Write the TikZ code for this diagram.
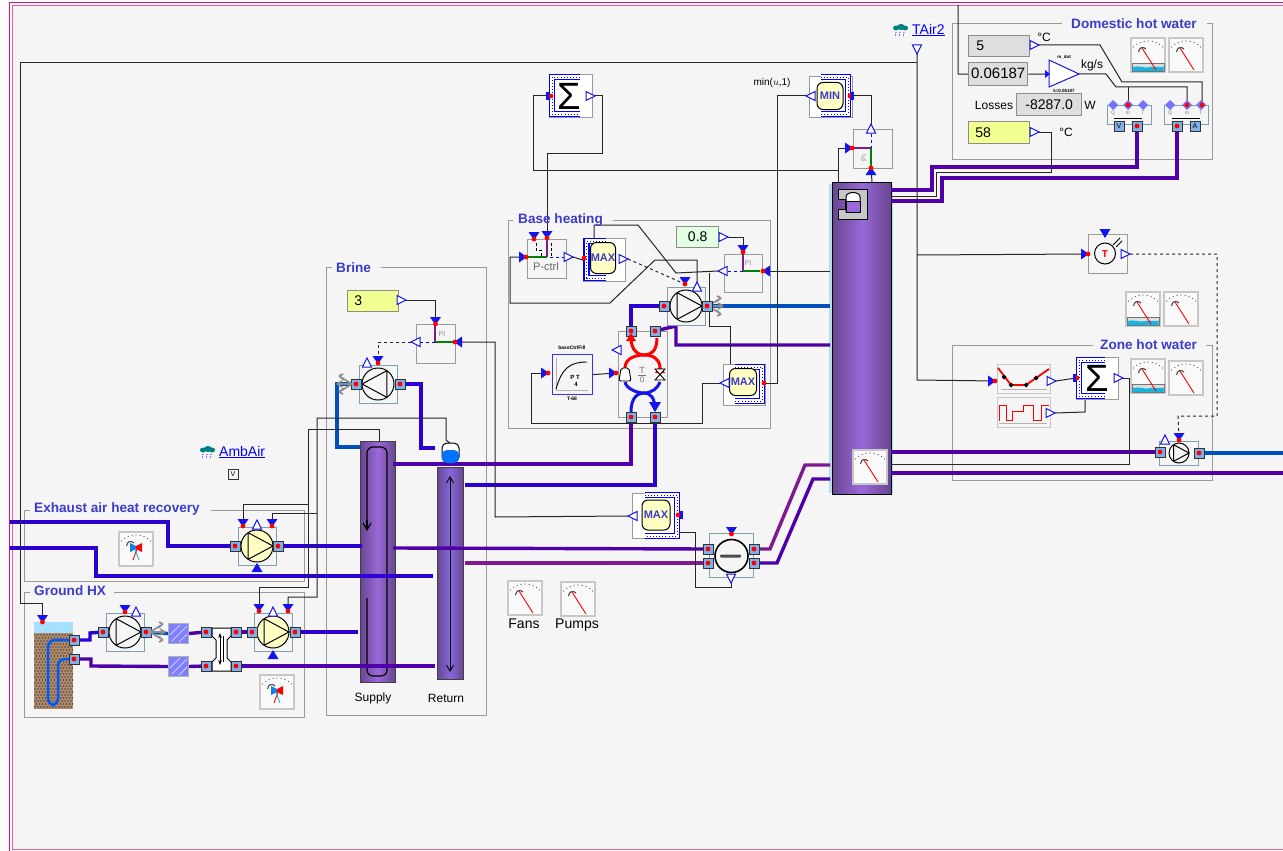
\documentclass[tikz,border=0pt]{standalone}
\usepackage{fontspec}
\setmainfont{Liberation Sans}
\usetikzlibrary{arrows.meta}
\definecolor{bgc}{HTML}{F5F5F5}
\definecolor{pinkA}{HTML}{D4107A}
\definecolor{pinkB}{HTML}{E060A0}
\definecolor{lblc}{HTML}{3C3CC8}
\definecolor{frc}{HTML}{9A9A9A}
\definecolor{pipeV}{HTML}{2C00D0}
\definecolor{pipeP}{HTML}{5000A8}
\definecolor{pipeB}{HTML}{0050C0}
\definecolor{pipeM}{HTML}{801890}
\definecolor{prtc}{HTML}{80B0E8}
\definecolor{bl}{HTML}{1414EC}
\definecolor{pmpbox}{HTML}{7F9FAE}
\definecolor{yel}{HTML}{FFFFC4}
\definecolor{iny}{HTML}{F0FF90}
\definecolor{ing}{HTML}{E2FFE2}
\definecolor{ingr}{HTML}{DEDEDE}
\definecolor{tnkD}{HTML}{684690}
\definecolor{tnkL}{HTML}{9A68D8}
\definecolor{tnkR}{HTML}{8468DC}
\definecolor{wat}{HTML}{18B4E0}
\definecolor{soil}{HTML}{B08A68}
\pgfdeclarelayer{bglayer}
\pgfdeclarelayer{wires}
\pgfsetlayers{bglayer,wires,main}
\tikzset{
 frameln/.style={draw=frc,line width=1},
 grplbl/.style={text=lblc,font=\bfseries\fontsize{13.6}{15}\selectfont,inner sep=0},
 sans/.style={inner sep=0,font=\fontsize{#1}{#1}\selectfont},
 pipe/.style={draw=#1,line width=3.4,line join=miter},
 sig/.style={draw=black!85,line width=1},
 sigd/.style={draw=black!85,line width=1,dash pattern=on 3pt off 3pt},
 portsq/.style={rectangle,minimum size=10pt,inner sep=0,fill=prtc,draw=black!80,line width=.8,
   path picture={\fill[red] (path picture bounding box.center) circle (2.4pt);}},
 blockbx/.style={rectangle,draw=frc,line width=1.2,fill=bgc,inner sep=0},
 whitebx/.style={rectangle,draw=frc,line width=1.2,fill=white,inner sep=0},
 pumpbx/.style={rectangle,draw=pmpbox,line width=1,fill=bgc,inner sep=0},
 valbx/.style={rectangle,draw=black!45,line width=1.4,inner sep=0,anchor=north west,text height=9pt,
   font=\fontsize{14}{16}\selectfont},
 octa/.style={rectangle,rounded corners=6pt,draw=black,line width=1,fill=yel,inner sep=0,text=lblc,
   font=\bfseries\fontsize{11}{12}\selectfont},
}
\newcommand{\prt}[3]{\node[portsq] (#1) at (#2,#3) {};}
\newcommand{\inT}[4]{\coordinate (#1) at (#2,#3);
 \begin{scope}[shift={(#2,#3)},rotate=#4]\fill[bl] (-5.5,-7) -- (5.5,-7) -- (0,1) -- cycle;\end{scope}
 \fill[red] (#2,#3) circle (2.4pt);}
\newcommand{\blT}[4]{\coordinate (#1) at (#2,#3);
 \begin{scope}[shift={(#2,#3)},rotate=#4]\fill[bl] (-5.5,-9) -- (5.5,-9) -- (0,0) -- cycle;\end{scope}}
\newcommand{\outT}[4]{\coordinate (#1) at (#2,#3);
 \begin{scope}[shift={(#2,#3)},rotate=#4]\draw[bl,line width=1,fill=white] (-4.5,-9) -- (4.5,-9) -- (0,0) -- cycle;\end{scope}}
% pump glyph: cx cy fill dir r
\newcommand{\pumpG}[5]{%
 \begin{scope}[shift={(#1,#2)},xscale=#4,scale=#5]
 \draw[black,line width=1,fill=#3] (0,0) circle (1pt);
 \draw[black,line width=1] (-.55,-.83) -- (-.55,.83) (-.55,-.83) -- (1,0) -- (-.55,.83);
 \end{scope}}
\newcommand{\pumpC}[6]{%
 \node[pumpbx,minimum size={2*#6+6}] (#1) at (#2,#3) {};
 \pumpG{#2}{#3}{#4}{#5}{#6}}
\newcommand{\fanI}[3]{\begin{scope}[shift={(#1,#2)},xscale=#3]
 \draw[black!45,line width=1.6] (0,0) -- (13,-8) (0,0) -- (15,0) (0,0) -- (13,8)
  (13,-8) -- +(-4,-2) (13,-8) -- +(-5,4) (15,0) -- +(-5,-3) (15,0) -- +(-5,3) (13,8) -- +(-4,2) (13,8) -- +(-5,-4);
 \end{scope}}
\newcommand{\waterF}{\fill[ingr] (1,25) rectangle (33,33); \draw[black!55,line width=.6] (1,25) rectangle (33,33);
 \fill[wat] (1.5,29) .. controls (8,27) and (14,31) .. (20,29) .. controls (25,28) and (29,30) .. (32.5,28.5) -- (32.5,33) -- (1.5,33) -- cycle;}
\newcommand{\fanF}{\fill[wat!70!blue] (11,11) -- (17,14) -- (17,17) -- (11,20) -- cycle; \fill[red] (23,11) -- (17,14) -- (17,17) -- (23,20) -- cycle;}
\newcommand{\fanG}{\draw[red,line width=.9] (18,17) -- (14,28); \draw[wat,line width=.9] (16,17) -- (20,28);}
\newcommand{\gaugeCore}[4]{\begin{scope}[shift={(#1,#2)}]
 \draw[draw=black!22,line width=1.3,fill=bgc!60!white] (0,0) rectangle (34,34);
 #3
 \foreach \a in {45,56,67,78,90,101,112,123,135}{\fill[black!65] ({17+20.5*cos(\a)},{23.5-20.5*sin(\a)}) circle (.65pt);}
 \draw[black!70,line width=1.1] (7.5,14) .. controls (8,9.5) and (12,8) .. (15,11);
 #4
 \end{scope}}
\newcommand{\gaugeB}[3]{\gaugeCore{#1}{#2}{#3}{\draw[red,line width=.9] (11,10) -- (25,32);}}
\newcommand{\gaugeF}[2]{\gaugeCore{#1}{#2}{\fanF}{\fanG}}
\newcommand{\brk}[1]{\draw[blue,line width=6.2] #1; \draw[white,line width=3.8] #1; \draw[blue,line width=.9,dash pattern=on .9pt off 2.2pt] #1;}
\newcommand{\rainI}[2]{\begin{scope}[shift={(#1,#2)}]
 \fill[teal] (-5,-1) ellipse (3 and 2.5) (0,-2) ellipse (4 and 3) (4,-1) ellipse (3 and 2.5);
 \draw[bl,line width=.8,dash pattern=on 1pt off 1.5pt] (-5,3) -- (-6,8) (-1,3) -- (-2,8) (3,3) -- (2,8);
 \end{scope}}
\begin{document}
\begin{tikzpicture}[x=1pt,y=-1pt]
\useasboundingbox (0,0) rectangle (1283,851);
\begin{pgfonlayer}{bglayer}
\fill[white!60!bgc] (0,0) rectangle (1283,851);
\fill[bgc] (12,5) rectangle (1283,849);
% group frames
\draw[frameln] (30,510) -- (24,510) -- (24,581) -- (304,581) -- (304,510) -- (211,510);
\draw[frameln] (30,592) -- (24,592) -- (24,717) -- (304,717) -- (304,592) -- (114,592);
\draw[frameln] (332,267) -- (326,267) -- (326,715) -- (486,715) -- (486,267) -- (381,267);
\draw[frameln] (513,220) -- (508,220) -- (508,428) -- (770,428) -- (770,220) -- (613,220);
\draw[frameln] (1062,24) -- (952,24) -- (952,159) -- (1212,159) -- (1212,24) -- (1207,24);
\draw[frameln] (1093,345) -- (952,345) -- (952,480) -- (1212,480) -- (1212,345) -- (1206,345);
% border
\draw[pinkA,line width=1.3] (1283,2.5) -- (9.5,2.5) -- (9.5,851);
\draw[pinkB,line width=1.7] (1283,5.5) -- (12.5,5.5) -- (12.5,849.5) -- (1283,849.5);
% tanks
\shade[left color=tnkD,right color=tnkD,middle color=tnkL,draw=black!75,line width=1] (360,441) rectangle (395,682);
\shade[left color=tnkD,right color=tnkD,middle color=tnkR,draw=black!75,line width=1] (437,467) rectangle (463,679);
\fill[black!30!cyan!30] (829,184) rectangle (893,493);
\shade[left color=tnkD,right color=tnkD,middle color=tnkL,draw=black,line width=1] (832,182) rectangle (891,494);
\draw[black,line width=1.2,rounded corners=6pt] (367,530) -- (367,447) -- (387,447) -- (387,676) -- (367,676) -- (367,598);
\draw[black,line width=1.2,-{Straight Barb[length=7pt,width=8pt]}] (367,520) -- (367,531);
\draw[black,line width=.9,{Straight Barb[length=6pt,width=7pt]}-{Straight Barb[length=6pt,width=7pt]}] (450,476) -- (450,672);
\end{pgfonlayer}
% ---------- group and free labels
\node[grplbl,anchor=west] (lEx) at (34,509) {Exhaust air heat recovery};
\node[grplbl,anchor=west] (lGr) at (34,591) {Ground HX};
\node[grplbl,anchor=west] (lBr) at (336,268) {Brine};
\node[grplbl,anchor=west] (lBa) at (518,220) {Base heating};
\node[grplbl,anchor=west] (lDh) at (1071,24) {Domestic hot water};
\node[grplbl,anchor=west] (lZo) at (1100,345) {Zone hot water};
\node[sans=12] (lSu) at (373,698) {Supply};
\node[sans=12] (lRe) at (446,698) {Return};
\node[sans=14] (lFa) at (524,624) {Fans};
\node[sans=14] (lPu) at (577,625) {Pumps};
\node[sans=10] (lMi) at (772,83) {min($u$,1)};
\node[sans=14,text=blue,anchor=west] (lAm) at (219,452) {\underline{AmbAir}};
\node[sans=14,text=blue,anchor=west] (lTa) at (912,30) {\underline{TAir2}};
\rainI{208}{451}\rainI{901}{29}
\node[rectangle,draw=black!80,line width=.8,minimum size=10pt,inner sep=0,font=\fontsize{7}{7}\selectfont] (vBox) at (233,474) {V};
% ---------- exhaust pump
\pumpC{pE}{257}{546}{yel}{1}{16}
\prt{pEl}{235}{546}\prt{pEr}{278}{546}
\inT{pEa}{243}{526}{0}\inT{pEb}{272}{526}{0}\outT{pEw}{257}{520}{180}\blT{pEs}{257}{563}{180}
\gaugeF{119}{532}
% ---------- ground HX
\fill[blue!35!cyan!35] (33.5,622) rectangle (73,633);
\fill[soil] (33.5,633) rectangle (73,709);
\foreach \i in {0,...,12}{\foreach \j in {0,...,24}{\fill[black!70] ({35+3*\i+1.5*mod(\j,2)},{635+3*\j}) circle (.8pt);}}
\draw[blue!65!cyan,line width=2.5,rounded corners=7pt] (72,640) -- (48,640) -- (48,705) -- (58,705) -- (58,659) -- (72,659);
\prt{gTop}{74}{640}\prt{gBot}{74}{659}
\inT{gIn}{42.5}{622}{0}
\pumpC{pF}{125}{632}{bgc}{1}{16}
\prt{pFl}{103}{632}\prt{pFr}{146}{632}
\fanI{150}{632}{1}
\inT{pFa}{125}{612}{0}\outT{pFw}{136}{607}{180}
\foreach \y/\n in {623/hA,656/hB}{
 \node[rectangle,draw=black!30,line width=1,fill=blue!50!white,minimum size=20pt,inner sep=0,anchor=north west] (\n) at (168,\y) {};
 \draw[white!80!blue,line width=.9] (170,\y+12) -- (180,\y+2) (172,\y+18) -- (187,\y+3) (179,\y+19) -- (187,\y+11);
}
\draw[black,line width=1,fill=white] (212,628) -- (231,628) -- (231,636) -- (227,640) -- (227,658) -- (231,662) -- (231,671) -- (212,671) -- (212,662) -- (216,658) -- (216,640) -- (212,636) -- cycle;
\draw[black,line width=.8,{Stealth[length=5pt]}-{Stealth[length=5pt]}] (220,633) -- (220,665);
\draw[black,line width=.8] (223,636) -- (223,662);
\prt{xA}{206}{632}\prt{xB}{236}{632}\prt{xC}{206}{666}\prt{xD}{236}{666}
\pumpC{pG}{273}{632}{yel}{1}{16}
\prt{pGl}{252}{632}\prt{pGr}{295}{632}
\inT{pGa}{259}{611}{0}\inT{pGb}{288}{611}{0}\outT{pGw}{273}{607}{180}\blT{pGs}{273}{650}{180}
\gaugeF{260}{675}
% ---------- brine
\node[valbx,fill=iny,minimum width=51pt,minimum height=21pt,align=left] (v3) at (347,290) {\hspace*{-30pt}3};
\outT{v3o}{406}{300}{90}
\node[blockbx,minimum size=39pt,anchor=north west] (piA) at (416,324) {};
\node[sans=7,text=black!45] (piAt) at (442,334) {PI};
\draw[blue,line width=1,dash pattern=on 3pt off 3pt] (420,342) -- (435,342);
\draw[pipeM,line width=1.6] (435,325) -- (435,342);
\draw[green!50!black,line width=1.6] (435,342) -- (453,342);
\inT{piAa}{435.5}{324}{0}\inT{piAb}{455}{342}{-90}\outT{piAo}{411}{342}{-90}
\pumpC{pB}{378}{384}{bgc}{-1}{16}
\prt{pBl}{356}{384}\prt{pBr}{400}{384}
\fanI{352}{384}{-1}
\inT{pBa}{378}{363}{0}\outT{pBw}{367}{358}{180}
\draw[black,line width=1,fill=white,rounded corners=5pt] (442,462) -- (442,443) -- (459,443) -- (459,462) -- cycle;
\fill[blue!55!cyan,rounded corners=5pt] (442,463) -- (442,450) -- (459,450) -- (459,463) -- cycle;
\coordinate (expT) at (450,443);
\coordinate (supT) at (379,441);
% ---------- base heating
\node[blockbx,minimum size=39pt,anchor=north west] (pc) at (527,239) {};
\node[sans=11,text=black!60] (pcT) at (546,267) {P-ctrl};
\draw[black,line width=.9,dash pattern=on 3pt off 2pt] (536,243) -- (536,250) -- (541,250) -- (541,256) (551,243) -- (551,256);
\draw[green!50!black,line width=1.6] (527,257) -- (547,257);
\draw[pipeM,line width=1.6] (547,238) -- (547,257);
\draw[blue,line width=1,dash pattern=on 3pt off 3pt] (550,257) -- (564,257);
\inT{pcA}{534}{239}{0}\inT{pcB}{547}{238}{0}\inT{pcC}{526}{257}{90}\outT{pcO}{573}{257}{90}
\node[whitebx,minimum width=42pt,minimum height=43pt,anchor=north west] (mxA) at (583,238) {};
\brk{(606,241) -- (586.5,241) -- (586.5,278) -- (606,278)}
\node[octa,minimum width=25pt,minimum height=31pt] (mxAo) at (603,258) {MAX};
\fill[red] (584,258) circle (2.4pt);
\outT{mxAw}{628}{259}{90}
\node[valbx,fill=ing,minimum width=42pt,minimum height=21pt] (v08) at (676,226) {0.8};
\outT{v08o}{728}{237}{90}
\node[blockbx,minimum size=38pt,anchor=north west] (piB) at (724,254) {};
\node[sans=7,text=black!45] (piBt) at (748,263) {PI};
\draw[blue,line width=1,dash pattern=on 3pt off 3pt] (728,271) -- (743,271);
\draw[pipeM,line width=1.6] (743,253) -- (743,271);
\draw[green!50!black,line width=1.6] (743,271) -- (760,271);
\inT{piBa}{743}{252}{0}\inT{piBb}{763}{271}{-90}\outT{piBo}{718}{271}{-90}
\pumpC{pH}{686}{306}{bgc}{1}{16}
\fanI{708}{306}{1}
\prt{pHl}{664}{306}\prt{pHr}{707}{306}
\inT{pHa}{685}{284}{0}\outT{pHw}{697}{282}{180}
\node[blockbx,minimum width=49pt,minimum height=86pt,anchor=north west] (hp) at (618,331) {};
\outT{hpW}{612}{350}{-90}
\prt{hpA}{631}{331}\prt{hpB}{655}{331}\prt{hpC}{631}{417}\prt{hpD}{655}{417}
\draw[red,line width=3] (631,338) .. controls (631,352) and (640,355) .. (644,355) .. controls (650,355) and (657,352) .. (657,338);
\draw[red,line width=3] (625,368) .. controls (625,358) and (636,355) .. (644,355) .. controls (652,355) and (659,358) .. (660,367);
\fill[red] (631,333) -- (636,341) -- (626,341) -- cycle (655,373) -- (660,365) -- (665,373) -- cycle;
\draw[bl,line width=3] (631,412) .. controls (631,397) and (638,393) .. (644,393) .. controls (650,393) and (655,397) .. (655,410);
\draw[bl,line width=3] (625,382) .. controls (626,388) and (636,393) .. (644,393) .. controls (652,393) and (658,388) .. (660,382);
\fill[bl] (649,402) -- (661,402) -- (655,412) -- cycle;
\draw[black,line width=.9,fill=white,rounded corners=2pt] (621,368) -- (629,368) -- (631,381) -- (619,381) -- cycle;
\draw[black,line width=.9,fill=white] (655,369) -- (665,369) -- (655,380) -- (665,380) -- cycle;
\node[sans=9,text=black!55] (hpT) at (642,370) {T};
\draw[black!55,line width=.7] (638,375) -- (646,375);
\node[sans=8,text=black!55] (hpO) at (642,380) {0};
\node[rectangle,draw=blue!80,line width=1.2,fill=bgc,minimum size=40pt,inner sep=0,anchor=north west] (bc) at (552,354) {};
\draw[black!30,line width=.8] (556,358) -- (556,390) -- (588,390);
\draw[black,line width=.9] (556,389) .. controls (562,368) and (570,362) .. (587,362);
\node[sans=6,font=\bfseries\fontsize{6}{6}\selectfont] (bcM) at (575,377) {P T};
\node[sans=6,font=\bfseries\fontsize{6}{6}\selectfont] (bcN) at (576,384) {4};
\node[sans=5,font=\bfseries\fontsize{5}{5}\selectfont] (bcU) at (572,348) {baseCtrlFill};
\node[sans=5,font=\bfseries\fontsize{5}{5}\selectfont] (bcD) at (572,399) {T-68};
\inT{bcI}{548}{373}{90}\coordinate (bcO) at (592,373);
\inT{hpI}{616}{373}{90}
\node[whitebx,minimum width=42pt,minimum height=41pt,anchor=north west] (mxB) at (723,364) {};
\brk{(735,367) -- (762,367) -- (762,401) -- (735,401)}
\node[octa,minimum width=27pt,minimum height=27pt] (mxBo) at (743,382) {MAX};
\fill[red] (764,383) circle (2.4pt);\coordinate (mxBi) at (765,383);
\outT{mxBw}{720}{383}{-90}
% ---------- Sum 1
\node[whitebx,minimum width=43pt,minimum height=43pt,anchor=north west] (sA) at (549,74) {};
\brk{(580,77) -- (552,77) -- (552,114) -- (580,114)}
\node[sans=38,text=black] (sAs) at (569,96) {Σ};
\fill[red] (551,96) circle (2.4pt);\fill[bl] (546,92) rectangle (549,100);\coordinate (sAi) at (549,96);
\outT{sAo}{595}{96}{90}
% ---------- MIN, PI3
\node[whitebx,minimum width=43pt,minimum height=41pt,anchor=north west] (mn) at (809,76) {};
\brk{(821,77) -- (848,77) -- (848,114) -- (821,114)}
\node[octa,minimum width=26pt,minimum height=27pt] (mnO) at (830,96) {MIN};
\fill[red] (850,96) circle (2.4pt);\fill[bl] (851,92) rectangle (854,100);\coordinate (mnI) at (852,96);
\outT{mnW}{806}{96}{-90}
\node[blockbx,minimum size=39pt,anchor=north west] (piC) at (853,129) {};
\node[sans=7,text=black!45,rotate=90] (piCt) at (864,158) {PI};
\draw[blue,line width=1,dash pattern=on 3pt off 3pt] (871,134) -- (871,148);
\draw[pipeM,line width=1.6] (853,148) -- (871,148);
\draw[green!50!black,line width=1.6] (871,148) -- (871,166);
\inT{piCa}{852}{148}{90}\inT{piCb}{871}{168}{180}\outT{piCo}{871}{124}{180}
% ---------- main tank fittings
\draw[black,line width=1,fill=black!22] (838,189) -- (867,189) -- (867,219) -- (838,219) -- (838,209) -- (845,209) -- (845,199) -- (838,199) -- cycle;
\draw[black,line width=1,fill=white] (846,212) -- (846,197) .. controls (846,191) and (860,191) .. (860,197) -- (860,212) -- cycle;
\draw[black,line width=.8,fill=tnkL] (846,212) -- (846,201) -- (860,201) -- (860,212) -- cycle;
\gaugeB{853}{450}{}
\coordinate (tkL) at (838,182);
\coordinate (tkC) at (872,182);
\coordinate (tkA) at (830,271);
\coordinate (tkB) at (830,306);
\coordinate (tkP) at (830,345);
\coordinate (tkM) at (830,465);
\coordinate (tkN) at (830,479);
\coordinate (tkR1) at (891,190);
\coordinate (tkR2) at (891,196);
\coordinate (tkR3) at (891,201);
\coordinate (tkR4) at (891,452);
\coordinate (tkR5) at (891,464);
\coordinate (tkR6) at (891,473);
% ---------- HX pump and MAX 3
\node[pumpbx,minimum width=44pt,minimum height=44pt] (hxB) at (731,555) {};
\draw[black,line width=1.6,fill=bgc] (731.5,556) circle (16.5pt);
\fill[black!70,rounded corners=1pt] (720,554.5) rectangle (741,557.5);
\prt{hxA}{708}{549}\prt{hxC}{708}{563}\prt{hxD}{754}{549}\prt{hxE}{754}{563}
\inT{hxT}{731.5}{534}{0}\outT{hxW}{731}{583}{0}
\node[whitebx,minimum width=47pt,minimum height=45pt,anchor=north west] (mxC) at (632,493) {};
\brk{(645,495) -- (677,495) -- (677,536) -- (645,536)}
\node[octa,minimum width=28pt,minimum height=30pt] (mxCo) at (656,515) {MAX};
\fill[red] (678,515) circle (2.4pt);\fill[bl] (680,511) rectangle (683,519);
\coordinate (mxCi) at (679,532);
\outT{mxCw}{628}{516}{-90}
\gaugeB{508}{581}{}\gaugeB{561}{582}{}
% ---------- DHW
\node[valbx,fill=ingr,minimum width=61pt,minimum height=21pt] (v5) at (968,35) {\hspace*{-38pt}5};
\outT{v5o}{1039}{45}{90}
\node[sans=12] (lCa) at (1044,37) {°C};
\node[valbx,fill=ingr,minimum width=59pt,minimum height=23pt,font=\fontsize{15}{16}\selectfont] (vM) at (968,62) {0.06187};
\draw[bl,line width=1,fill=white] (1049,60) -- (1049,87) -- (1079,74) -- cycle;
\coordinate (gnI) at (1049,74);\coordinate (gnO) at (1079,74);
\fill[bl] (1045,70) -- (1050,74) -- (1045,78) -- cycle;
\node[sans=4,font=\bfseries\fontsize{4.5}{5}\selectfont] (gnT) at (1064,57) {{m\_dot}};
\node[sans=4,font=\bfseries\fontsize{4.5}{5}\selectfont] (gnB) at (1064,91) {k=0.06187};
\node[sans=12] (lKg) at (1092,65) {kg/s};
\node[sans=12] (lLo) at (994,105) {Losses};
\node[valbx,fill=ingr,minimum width=65pt,minimum height=22pt] (vL) at (1016,93) {-8287.0};
\node[sans=12] (lW) at (1090,105) {W};
\node[valbx,fill=iny,minimum width=61pt,minimum height=22pt] (v58) at (968,121) {\hspace*{-32pt}58};
\outT{v58o}{1039}{132}{90}
\node[sans=12] (lCb) at (1066,132) {°C};
\gaugeB{1131}{38}{\waterF}\gaugeB{1169}{38}{}
\foreach \nm/\xa/\xb/\xc/\xx/\tA/\tB/\xp/\xq in {uA/1113/1128/1143/1107/V//1119/1137,uB/1170/1187/1201/1164//A/1177/1195}{
 \node[pumpbx,minimum width=44pt,minimum height=19pt,anchor=north west] (\nm) at (\xx,105) {};
 \fill[blue!55!white] (\xa-5,105) -- (\xa,100) -- (\xa+5,105) -- (\xa,110) -- cycle;
 \fill[blue!55!white] (\xb-5,105) -- (\xb,100) -- (\xb+5,105) -- (\xb,110) -- cycle;
 \fill[blue!55!white] (\xc-5,105) -- (\xc,100) -- (\xc+5,105) -- (\xc,110) -- cycle;
 \fill[red] (\xb,105) circle (2.4pt);
 \node[sans=5,text=black!55] at (\xa,113) {Q};
 \node[sans=5,text=black!55] at (\xb,113) {m};
 \node[sans=5,text=black!55] at (\xc,113) {T};
 \draw[black,line width=.9] (\xp-5,118) -- (\xq+5,118);
 \node[rectangle,fill=prtc,draw=black!80,line width=.8,minimum size=10pt,inner sep=0,font=\fontsize{7}{7}\selectfont] (\nm p) at (\xp,126) {\tA};
 \node[rectangle,fill=prtc,draw=black!80,line width=.8,minimum size=10pt,inner sep=0,font=\fontsize{7}{7}\selectfont] (\nm q) at (\xq,126) {\tB};
}
\fill[red] (1137,126) circle (2.4pt);\fill[red] (1177,126) circle (2.4pt);
\fill[red] (1202,105) circle (2.4pt);
\coordinate (uAm) at (1128,105);\coordinate (uBm) at (1187,105);\coordinate (uBt) at (1202,105);
\coordinate (uAh) at (1137,126);\coordinate (uBh) at (1177,126);
% ---------- T sensor
\node[blockbx,minimum size=39pt,anchor=north west] (ts) at (1088,234) {};
\draw[black,line width=1] (1113,245) -- (1120,238) (1116,247) -- (1122,241);
\draw[black,line width=1,fill=bgc] (1105,253.5) circle (10.5pt);
\node[sans=11,text=red,font=\bfseries\fontsize{10}{10}\selectfont] (tsT) at (1105,254) {T};
\blT{tsA}{1105}{238}{0}
\inT{tsB}{1088}{254}{90}\outT{tsO}{1130}{254}{90}
\gaugeB{1126}{292}{\waterF}\gaugeB{1164}{292}{}
\gaugeB{1131}{359}{\waterF}\gaugeB{1169}{361}{}
% ---------- zone
\node[blockbx,draw=black!22,minimum width=53pt,minimum height=29pt,anchor=north west] (cv) at (997,364) {};
\draw[red,line width=1.8] (998,368) -- (1011,385) -- (1026,385) -- (1036,378) -- (1049,369);
\foreach \p in {(1004,377),(1011,385),(1026,385),(1036,378)}{\fill[black] \p +(-2.5,0) -- +(0,-2.5) -- +(2.5,0) -- +(0,2.5) -- cycle;}
\draw[black!30,line width=.8] (1001,389) -- (1047,389);
\inT{cvI}{995}{381}{90}\outT{cvO}{1056}{381}{90}
\node[blockbx,draw=black!22,minimum width=53pt,minimum height=30pt,anchor=north west] (wv) at (997,397) {};
\draw[red,line width=1] (999,421) -- (999,405) -- (1006,405) -- (1006,420) -- (1012,420) -- (1012,411) -- (1023,411) -- (1023,405) -- (1033,405) -- (1033,420) -- (1041,420) -- (1041,405) -- (1049,405);
\draw[black!30,line width=.8] (999,423) -- (1047,423);
\outT{wvO}{1055}{413}{90}
\node[whitebx,minimum width=42pt,minimum height=42pt,anchor=north west] (sB) at (1076,357) {};
\brk{(1105,360) -- (1079,360) -- (1079,396) -- (1105,396)}
\node[sans=38,text=black] (sBs) at (1097,378) {Σ};
\fill[red] (1077,378) circle (2.4pt);\fill[bl] (1073,374) rectangle (1076,382);\coordinate (sBi) at (1076,378);
\coordinate (sBb) at (1085,397);
\outT{sBo}{1123}{378}{90}
\node[pumpbx,minimum width=39pt,minimum height=24pt] (pZb) at (1178.5,453) {};
\pumpG{1179}{453}{bgc}{1}{10}
\prt{pZl}{1160}{452}\prt{pZr}{1199}{453}
\inT{pZa}{1179}{440}{0}\outT{pZw}{1165}{435}{180}
% ---------- wires
\begin{pgfonlayer}{wires}
% thick pipes
\draw[pipe=pipeV] (10,522) -- (168,522) -- (168,546) -- (pEl.center);
\draw[pipe=pipeV] (10,548) -- (96,548) -- (96,576) -- (433,576);
\draw[pipe=pipeV] (pEr.center) -- (362,546);
\draw[pipe=pipeP] (393,548) -- (hxA.center);
\draw[pipe=pipeM] (465,563) -- (hxC.center);
\draw[pipe=pipeM] (hxD.center) -- (770,549) -- (805,465) -- (tkM);
\draw[pipe=pipeP] (hxE.center) -- (777,563) -- (813,479) -- (tkN);
\draw[pipe=pipeP] (393,464) -- (631,464) -- (hpC.center);
\draw[pipe=pipeV] (465,485) -- (655,485) -- (hpD.center);
\draw[pipe=pipeV] (gTop.center) -- (90,640) -- (90,633) -- (pFl.center);
\draw[pipe=pipeP] (gBot.center) -- (91,659) -- (91,666) -- (hB.west);
\draw[pipe=pipeB] (pFr.center) -- (hA.west);
\draw[pipe=pipeP] (hA.east) -- (xA.center);
\draw[pipe=pipeP] (hB.east) -- (xC.center);
\draw[pipe=pipeP] (xB.center) -- (pGl.center);
\draw[pipe=pipeV] (pGr.center) -- (358,632);
\draw[pipe=pipeP] (xD.center) -- (435,666);
\draw[pipe=pipeB] (pBl.center) -- (337,384) -- (337,447) -- (360,447);
\draw[pipe=pipeV] (pBr.center) -- (421,384) -- (421,448) -- (435,448);
\draw[pipe=pipeV] (pHl.center) -- (631,306) -- (hpA.center);
\draw[pipe=pipeB] (pHr.center) -- (tkB);
\draw[pipe=pipeP] (hpB.center) -- (676,326) -- (676,345) -- (tkP);
\draw[pipe=pipeP,line width=4] (tkR1) -- (932,190) -- (932,167) -- (1137,167) -- (uAh);
\draw[pipe=pipeP,line width=4] (tkR3) -- (942,201) -- (942,178) -- (1177,178) -- (uBh);
\draw[pipe=pipeP,line width=4] (tkR4) -- (pZl.center);
\draw[pipe=pipeB] (pZr.center) -- (1283,453);
\draw[pipe=pipeP,line width=4] (tkR6) -- (1283,473);
% signals
\draw[sig] (gIn) -- (42.5,603) -- (20,603) -- (20,63) -- (917,63);
\coordinate (ta) at (917,52);
\draw[sig] (ta) -- (917,380) -- (cvI);
\draw[sig] (917,255) -- (tsB);
\draw[sig] (pEa) -- (243,504) -- (308,504);
\draw[sig] (supT) -- (379,429) -- (308,429) -- (308,587) -- (259,587) -- (pGa);
\draw[sig] (expT) -- (446,440) -- (446,418) -- (317,418) -- (317,597) -- (288,597) -- (pGb);
\draw[sig] (317,513) -- (272,513) -- (pEb);
\draw[sig] (v3o) -- (435.5,300) -- (piAa);
\draw[sig] (piAb) -- (495,342) -- (495,517) -- (mxCw);
\draw[sigd] (piAo) -- (378,342) -- (pBa);
\draw[sig] (sAi) -- (533,96) -- (533,170) -- (838,170) -- (tkL);
\draw[sig] (sAo) -- (602,96) -- (602,153) -- (547,153) -- (pcB);
\draw[sig] (pcO) -- (mxA.west);
\draw[sig] (pcC) -- (510,257) -- (510,303) -- (610,303) -- (655,260) -- (697,260) -- (pHw);
\draw[sig] (594,238) -- (594,225) -- (638,225) -- (676,273) -- (piBo);
\draw[sig] (709,273) -- (709,326) -- (730,326) -- (730,364);
\draw[sigd] (mxAw) -- (pHa);
\draw[sig] (v08o) -- (743,237) -- (piBa);
\draw[sig] (piBb) -- (tkA);
\draw[sig] (bc.east) -- (hpI);
\draw[sig] (mxBw) -- (702,383) -- (702,423) -- (531,423) -- (531,373) -- (bcI);
\draw[sig] (mxBi) -- (777,383) -- (777,96) -- (mnW);
\draw[sig] (mnI) -- (871,96) -- (piCo);
\draw[sig] (piCa) -- (838,148) -- (tkL);
\draw[sig] (piCb) -- (tkC);
\draw[sig] (tkR2) -- (936,196) -- (936,172) -- (1051,172) -- (1051,132) -- (v58o);
\draw[sig] (958,5) -- (958,74) -- (vM.west);
\draw[sig] (vM.east) -- (gnI);
\draw[sig] (gnO) -- (1106,74) -- (1116,87) -- (1187,87) -- (uBm);
\draw[sig] (1128,87) -- (uAm);
\draw[sig] (v5o) -- (1100,45) -- (1122,82) -- (1202,82) -- (uBt);
\draw[sig] (mxCi) -- (695,532) -- (695,587) -- (731,587) -- (hxW);
\draw[sigd] (tsO) -- (1217,254) -- (1217,416) -- (1178,416) -- (pZa);
\draw[sig] (cvO) -- (sBi);
\draw[sig] (wvO) -- (1085,412) -- (sBb);
\draw[sig] (sBo) -- (1129,378) -- (1129,464) -- (tkR5);
\end{pgfonlayer}
\outT{taO}{917}{54}{0}
\end{tikzpicture}
\end{document}
